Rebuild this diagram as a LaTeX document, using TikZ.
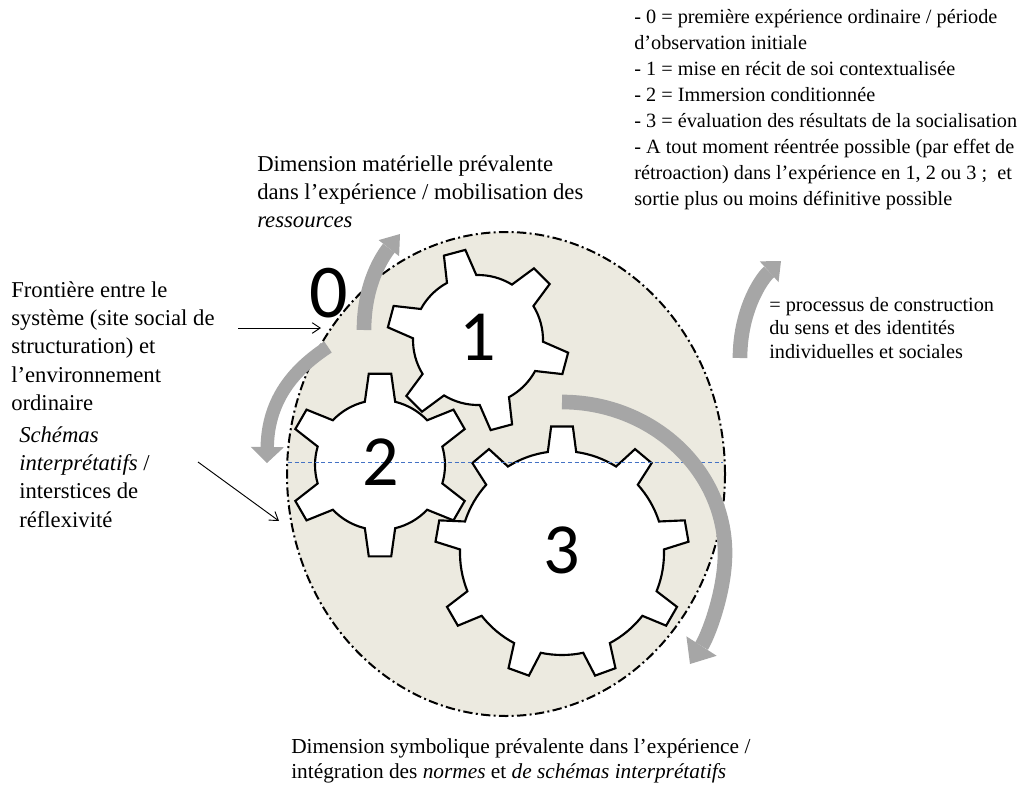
\documentclass[tikz,border=0pt]{standalone}
\usepackage{fontspec}
\setmainfont{Liberation Serif}
\newfontfamily\gearfont{Carlito}
\usepackage{tikz}
\usetikzlibrary{arrows.meta}

\definecolor{zonebeige}{RGB}{236,234,224}
\definecolor{flowgray}{RGB}{166,166,166}
\definecolor{midblue}{RGB}{68,114,196}

% gear: centre, teeth, root radius, tip radius, first tooth angle, base half-angle, tip half-angle
\newcommand{\gearshape}[7]{%
  \begin{scope}[shift={(#1)}]
    \pgfmathsetmacro{\gstep}{360/#2}
    \draw[gearline] ({#5-#6}:#3)
      \foreach \k in {1,...,#2}{
        -- ({#5+(\k-1)*\gstep-#7}:#4) -- ({#5+(\k-1)*\gstep+#7}:#4)
        -- ({#5+(\k-1)*\gstep+#6}:#3)
        arc[start angle={#5+(\k-1)*\gstep+#6}, end angle={#5+\k*\gstep-#6}, radius=#3]
      } -- cycle;
  \end{scope}}

\begin{document}
\begin{tikzpicture}[x=0.75pt,y=0.75pt,yscale=-1,xscale=1,
  gearline/.style={draw=black, line width=1.6pt, fill=white},
  zone/.style={fill=zonebeige, draw=black, line width=1.5pt, dash pattern=on 7pt off 2.5pt on 1.5pt off 2.5pt},
  flow/.style={draw=flowgray, line width=11pt},
  txt/.style={anchor=north west, inner sep=0pt, align=left},
  pointer/.style={-{Straight Barb[length=6pt,width=8pt]}, line width=0.7pt},
  midline/.style={draw=midblue, line width=0.75pt, dash pattern=on 3pt off 2pt},
  digit/.style={inner sep=0pt, font=\gearfont\fontsize{54}{54}\selectfont}]
\useasboundingbox (0,0) rectangle (1020,792);

% Zone
\draw[zone] (506,474) ellipse [x radius=219, y radius=242];

% Gears
\gearshape{562,553}{9}{102}{127}{270}{8}{4.9}
\gearshape{478,340}{6}{65}{91}{15}{13.5}{7}
\gearshape{380,465}{6}{65}{92}{30}{13.5}{7}

% Connection
\coordinate (midL) at (288,462);
\coordinate (midR) at (723,462);
\draw[midline] (midL) -- (midR);

% Text Node
\draw (329,293) node [digit, font=\gearfont\fontsize{57}{57}\selectfont] (n0) {0};
\draw (478,337) node [digit] (n1) {1};
\draw (381,462) node [digit] (n2) {2};
\draw (562,550) node [digit] (n3) {3};

% Curved Arrow
\coordinate (aTail) at (364,330);
\coordinate (aTip) at (400,234);
\draw[flow, -{Triangle[width=19.5pt,length=13.5pt,line width=0pt]}] (aTail) .. controls (364,290) and (378,262) .. (aTip);
% Curved Arrow
\coordinate (bTail) at (328,347);
\coordinate (bTip) at (267,463);
\draw[flow, line width=10pt, -{Triangle[width=25pt,length=12pt,line width=0pt]}] (bTail) .. controls (296,368) and (268,398) .. (bTip);
% Curved Arrow
\coordinate (cTail) at (562,402);
\coordinate (cMid) at (725,553);
\coordinate (cTip) at (690,664);
\draw[flow, -{Triangle[width=27pt,length=16pt,line width=0pt]}] (cTail) .. controls (652,402) and (725,470) .. (cMid) .. controls (725,592) and (708,636) .. (cTip);
% Curved Arrow
\coordinate (dTail) at (740,358);
\coordinate (dTip) at (781,261);
\draw[flow, -{Triangle[width=21pt,length=12pt,line width=0pt]}] (dTail) .. controls (740,312) and (760,280) .. (dTip);

% Text Node
\draw (634,9) node [txt, font=\fontsize{15.2}{19.5}\selectfont] (legend) {- 0 = première expérience ordinaire / période\\d’observation initiale\\- 1 = mise en récit de soi contextualisée\\- 2 = Immersion conditionnée\\- 3 = évaluation des résultats de la socialisation\\- A tout moment réentrée possible (par effet de\\rétroaction) dans l’expérience en 1, 2 ou 3 ;~ et\\sortie plus ou moins définitive possible};
% Text Node
\draw (257,155) node [txt, font=\fontsize{17}{21.3}\selectfont] (material) {Dimension matérielle prévalente\\dans l’expérience / mobilisation des\\\textit{ressources}};
% Text Node
\draw (11,281) node [txt, font=\fontsize{17}{21.3}\selectfont] (frontier) {Frontière entre le\\système (site social de\\structuration) et\\l’environnement\\ordinaire};
% Text Node
\draw (19,426) node [txt, font=\fontsize{17}{21.3}\selectfont] (schemes) {\textit{Schémas}\\\textit{interprétatifs} /\\interstices de\\réflexivité};
% Text Node
\draw (769,297) node [txt, font=\fontsize{15.2}{17.6}\selectfont] (process) {= processus de construction\\du sens et des identités\\individuelles et sociales};
% Text Node
\draw (291,738) node [txt, font=\fontsize{16}{18.8}\selectfont] (symbolic) {Dimension symbolique prévalente dans l’expérience /\\intégration des \textit{normes} et \textit{de schémas interprétatifs}};

% Connection
\coordinate (frontTail) at (238,328);
\coordinate (frontTip) at (321,328);
\draw[pointer] (frontTail) -- (frontTip);
% Connection
\coordinate (schemeTail) at (198,462);
\coordinate (schemeTip) at (279,521);
\draw[pointer] (schemeTail) -- (schemeTip);

\end{tikzpicture}
\end{document}
